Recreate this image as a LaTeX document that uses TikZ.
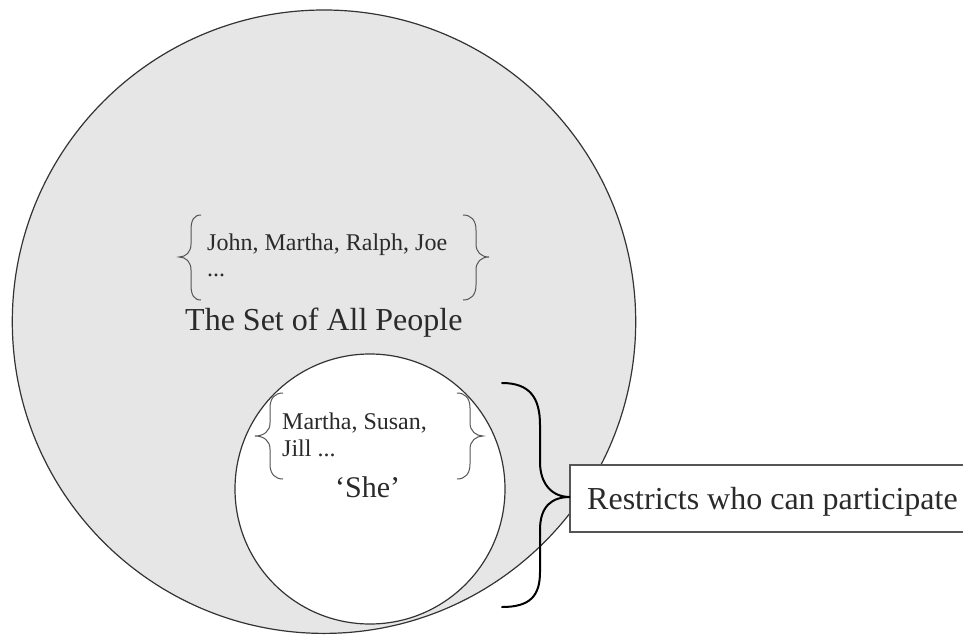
\documentclass[tikz,border=0pt]{standalone}
\usepackage{fontspec}
\setmainfont{Liberation Serif}
\definecolor{setfill}{HTML}{E6E6E6}
\definecolor{edge}{HTML}{333333}
\definecolor{bracecol}{HTML}{555555}
\definecolor{txt}{HTML}{2A2A2A}
\tikzset{
  setcircle/.style={circle, draw=edge, line width=1.2pt, inner sep=0pt},
  smallbrace/.style={draw=bracecol, line width=1pt},
  bigbrace/.style={draw=black, line width=2pt},
  listtext/.style={anchor=base west, inner sep=0pt, text=txt, font=\fontsize{24}{28}\selectfont},
  bigtext/.style={anchor=base west, inner sep=0pt, text=txt, font=\fontsize{32}{38}\selectfont},
  notebox/.style={draw=bracecol, line width=1.5pt, fill=white}
}
\begin{document}
\begin{tikzpicture}[x=1pt, y=-1pt]
\clip (0,0) rectangle (963,634);
\fill[white] (0,0) rectangle (963,634);
% sets
\node[setcircle, fill=setfill, minimum size=623.4pt] (all) at (324,321.7) {};
\node[setcircle, fill=white, minimum size=270pt] (she) at (370,489) {};
% texts in the big set
\node[listtext] (l1) at (207,250) {John, Martha, Ralph, Joe};
\node[listtext] (l2) at (207,276) {...};
\node[bigtext] (allname) at (185,330) {The Set of All People};
% braces of the big set
\draw[smallbrace] (201,215) .. controls (194,215) and (191,220) .. (191,230) -- (191,244)
  .. controls (191,252) and (186,257) .. (179,257) .. controls (186,257) and (191,262) .. (191,270)
  -- (191,285) .. controls (191,295) and (194,300) .. (201,300);
\draw[smallbrace] (463,215) .. controls (471,215) and (476,220) .. (476,230) -- (476,244)
  .. controls (476,252) and (481,257) .. (489,257) .. controls (481,257) and (476,262) .. (476,270)
  -- (476,285) .. controls (476,295) and (471,300) .. (463,300);
% texts in the small set
\node[listtext] (s1) at (282,429) {Martha, Susan,};
\node[listtext] (s2) at (282,456) {Jill ...};
\node[anchor=base west, inner sep=0pt, text=txt, font=\fontsize{30}{36}\selectfont] (shename) at (335,497) {‘She’};
% braces of the small set
\draw[smallbrace] (283,393) .. controls (275,393) and (270,398) .. (270,408) -- (270,423)
  .. controls (270,431) and (264,436) .. (255,436) .. controls (264,436) and (270,441) .. (270,449)
  -- (270,464) .. controls (270,474) and (275,479) .. (283,479);
\draw[smallbrace] (457,393) .. controls (465,393) and (470,398) .. (470,408) -- (470,423)
  .. controls (470,431) and (476,436) .. (483,436) .. controls (476,436) and (470,441) .. (470,449)
  -- (470,464) .. controls (470,474) and (465,479) .. (457,479);
% note box
\draw[notebox] (570,465) rectangle (990,532);
\node[bigtext] (note) at (587,509) {Restricts who can participate};
\coordinate (tip) at (570,497);
% big brace
\draw[bigbrace, line cap=round] (502,383) .. controls (530,383) and (540,398) .. (540,425) -- (540,462)
  .. controls (540,484) and (552,497) .. (tip) .. controls (552,497) and (540,506) .. (540,530)
  -- (540,572) .. controls (540,596) and (530,607) .. (502,607);
\end{tikzpicture}
\end{document}
